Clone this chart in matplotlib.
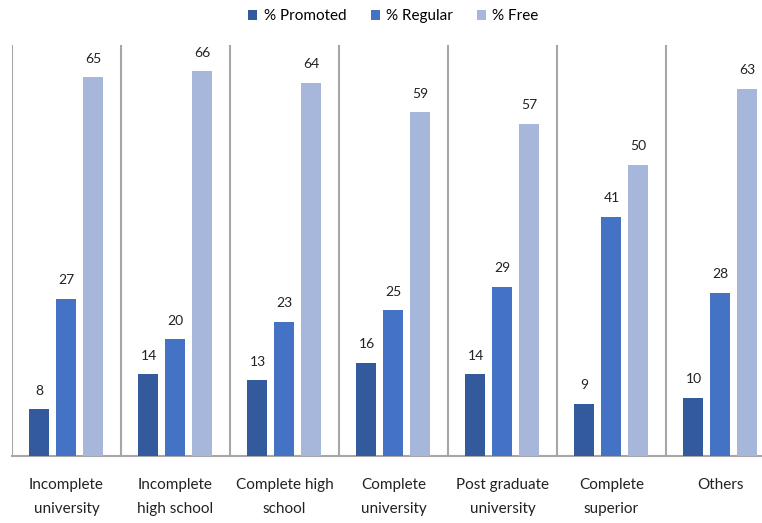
import matplotlib
matplotlib.use("Agg")
import matplotlib.pyplot as plt
import numpy as np

categories = ["Incomplete\nuniversity", "Incomplete\nhigh school", "Complete high\nschool",
              "Complete\nuniversity", "Post graduate\nuniversity", "Complete\nsuperior", "Others"]
series_names = ["% Promoted", "% Regular", "% Free"]
promoted = [8, 14, 13, 16, 14, 9, 10]
regular = [27, 20, 23, 25, 29, 41, 28]
free = [65, 66, 64, 59, 57, 50, 63]
colors = ["#345A9E", "#4472C4", "#A7B6DB"]

plt.rcParams['font.family'] = ['Lato', 'DejaVu Sans']

fig = plt.figure(figsize=(7.62, 5.23), dpi=100)
W, H = 762, 523
left, right, bottom, top = 12, 775, 456, 45
ax = fig.add_axes([left / W, (H - bottom) / H, (right - left) / W, (bottom - top) / H])

x = np.arange(len(categories))
bw = 20 / 109
off = 27 / 109
for i, (vals, c, name) in enumerate(zip([promoted, regular, free], colors, series_names)):
    bars = ax.bar(x + (i - 1) * off, vals, bw, color=c, label=name, zorder=3)
    for b, v in zip(bars, vals):
        ax.annotate(str(v), (b.get_x() + b.get_width() / 2, v), xytext=(0, 9),
                    textcoords="offset points", ha="center", va="bottom",
                    fontsize=10, color="#222222")

ax.set_xlim(-0.5, len(categories) - 0.5)
ax.set_ylim(0, 70.5)
for k in range(len(categories) + 1):
    ax.axvline(k - 0.5, color="#A6A6A6", lw=1.5, zorder=1)
for s in ["top", "right", "left"]:
    ax.spines[s].set_visible(False)
ax.spines["bottom"].set_color("#A6A6A6")
ax.spines["bottom"].set_linewidth(1.5)
ax.set_yticks([])
ax.set_xticks(x)
ax.set_xticklabels(categories, fontsize=11, color="#222222", linespacing=1.85)
ax.tick_params(axis="x", length=0, pad=16)

ax.legend(loc="upper center", bbox_to_anchor=(0.5, 1.12), ncol=3, frameon=False,
          fontsize=11, handlelength=0.6, handleheight=0.6, handletextpad=0.4,
          columnspacing=1.6)

fig.savefig("out.png", dpi=100)
